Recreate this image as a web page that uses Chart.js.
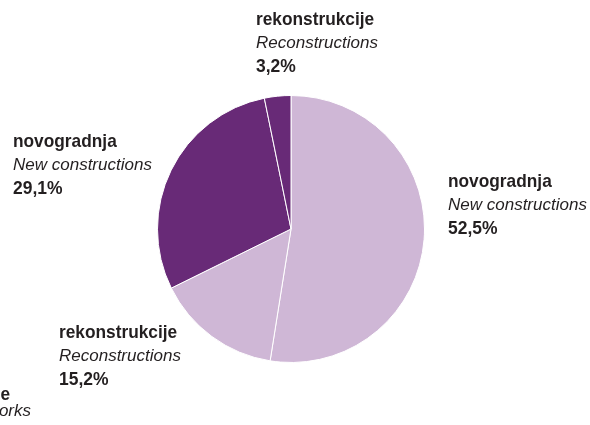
<!DOCTYPE html>
<html>
<head>
<meta charset="utf-8">
<script src="https://cdn.jsdelivr.net/npm/chart.js@4.4.1/dist/chart.umd.min.js"></script>
<style>
  body { margin: 0; background: #fff; }
  canvas { display: block; }
</style>
</head>
<body>
<canvas id="myChart" width="590" height="425"></canvas>
<script>
// data, clockwise from 12 o'clock
const labelsHr = ['novogradnja', 'rekonstrukcije', 'novogradnja', 'rekonstrukcije'];
const labelsEn = ['New constructions', 'Reconstructions', 'New constructions', 'Reconstructions'];
const values = [52.5, 15.2, 29.1, 3.2];
const colors = ['#cfb7d6', '#cfb7d6', '#682a77', '#682a77'];

// where each label block sits (left x, first baseline y)
const labelPos = [[448, 187], [59, 338], [13, 147], [256, 25]];

const FONT = '"Liberation Sans", Arial, sans-serif';

// condensed look: squeeze the text horizontally
function squeezed(c, text, x, y, font, sx) {
    c.save();
    c.translate(x, y);
    c.scale(sx, 1);
    c.font = font;
    c.fillText(text, 0, 0);
    c.restore();
}

const textLabels = {
    id: 'textLabels',
    afterDraw(chart) {
        const c = chart.ctx;
        c.save();
        c.fillStyle = '#231f20';
        c.textBaseline = 'alphabetic';
        c.textAlign = 'left';
        values.forEach((v, i) => {
            const [x, y] = labelPos[i];
            squeezed(c, labelsHr[i], x, y, 'bold 19px ' + FONT, 0.91);
            squeezed(c, labelsEn[i], x, y + 23, 'italic 17px ' + FONT, 1);
            squeezed(c, v.toFixed(1).replace('.', ',') + '%', x, y + 47, 'bold 19px ' + FONT, 0.92);
        });
        // label of a neighbouring chart, cut off at the left edge
        c.textAlign = 'right';
        squeezed(c, 'ostale', 10, 400, 'bold 19px ' + FONT, 0.91);
        squeezed(c, 'Other works', 31, 416, 'italic 17px ' + FONT, 1);
        c.restore();
    }
};

const ctx = document.getElementById('myChart');
const chart = new Chart(ctx, {
    type: 'pie',
    data: {
        labels: labelsEn,
        datasets: [{
            data: values,
            backgroundColor: colors,
            borderColor: '#ffffff',
            borderWidth: 1
        }]
    },
    options: {
        responsive: false,
        animation: false,
        layout: { padding: { left: 157, right: 165, top: 95, bottom: 62 } },
        plugins: {
            legend: { display: false },
            tooltip: { enabled: false }
        }
    },
    plugins: [textLabels]
});
</script>
</body>
</html>
